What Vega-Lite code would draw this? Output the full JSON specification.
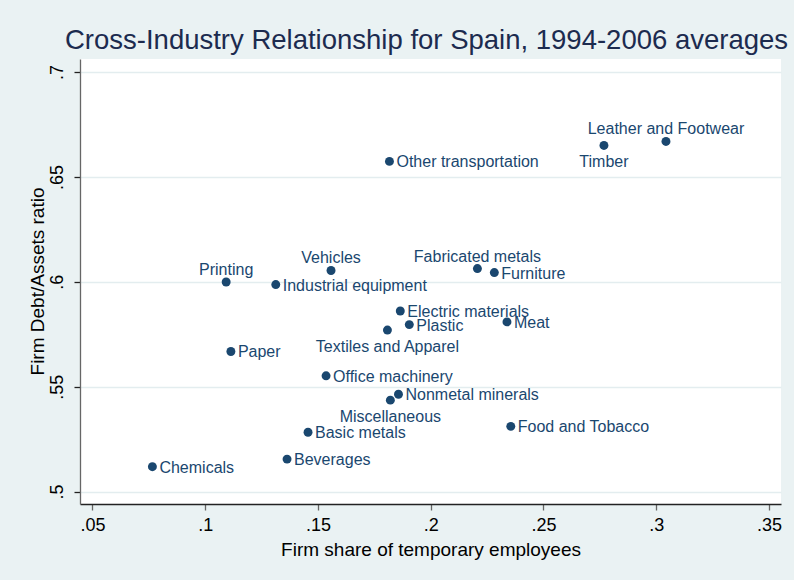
{
  "$schema": "https://vega.github.io/schema/vega-lite/v6.json",
  "autosize": {"type": "none"},
  "width": 701,
  "height": 445,
  "padding": {"left": 80, "top": 59, "right": 13, "bottom": 76},
  "background": "#EAF2F3",
  "config": {
    "view": {"fill": "white", "stroke": null},
    "font": "Liberation Sans"
  },
  "title": {
    "text": "Cross-Industry Relationship for Spain, 1994-2006 averages",
    "anchor": "middle",
    "frame": "group",
    "font": "Liberation Sans",
    "fontSize": 27.5,
    "fontWeight": "normal",
    "color": "#1c2b4f",
    "baseline": "alphabetic",
    "offset": 8,
    "dy": 25,
    "dx": -4
  },
  "data": {
    "values": [
      {"industry": "Leather and Footwear", "temp": 0.3043, "debt": 0.6669},
      {"industry": "Timber", "temp": 0.2768, "debt": 0.6650},
      {"industry": "Other transportation", "temp": 0.1817, "debt": 0.6574},
      {"industry": "Vehicles", "temp": 0.1558, "debt": 0.6054},
      {"industry": "Fabricated metals", "temp": 0.2207, "debt": 0.6063},
      {"industry": "Furniture", "temp": 0.2282, "debt": 0.6044},
      {"industry": "Printing", "temp": 0.1093, "debt": 0.5999},
      {"industry": "Industrial equipment", "temp": 0.1313, "debt": 0.5987},
      {"industry": "Electric materials", "temp": 0.1865, "debt": 0.5861},
      {"industry": "Plastic", "temp": 0.1905, "debt": 0.5796},
      {"industry": "Textiles and Apparel", "temp": 0.1808, "debt": 0.5770},
      {"industry": "Meat", "temp": 0.2338, "debt": 0.5809},
      {"industry": "Paper", "temp": 0.1114, "debt": 0.5668},
      {"industry": "Office machinery", "temp": 0.1536, "debt": 0.5552},
      {"industry": "Nonmetal minerals", "temp": 0.1857, "debt": 0.5464},
      {"industry": "Miscellaneous", "temp": 0.1821, "debt": 0.5436},
      {"industry": "Basic metals", "temp": 0.1456, "debt": 0.5283},
      {"industry": "Food and Tobacco", "temp": 0.2355, "debt": 0.5311},
      {"industry": "Beverages", "temp": 0.1363, "debt": 0.5155},
      {"industry": "Chemicals", "temp": 0.0766, "debt": 0.5119}
    ]
  },
  "encoding": {
    "x": {
      "field": "temp",
      "type": "quantitative",
      "scale": {"domain": [0.0445, 0.3553], "nice": false, "zero": false},
      "axis": {
        "title": "Firm share of temporary employees",
        "values": [0.05, 0.1, 0.15, 0.2, 0.25, 0.3, 0.35],
        "labelExpr": "substring(format(datum.value, '.2~f'), 1)",
        "grid": false,
        "domainColor": "#222222",
        "domainWidth": 1.3,
        "tickColor": "#666666",
        "tickSize": 6,
        "tickWidth": 1.3,
        "labelFont": "Liberation Sans",
        "labelFontSize": 18,
        "labelColor": "#000000",
        "labelPadding": 6,
        "labelFlush": false,
        "titleFont": "Liberation Sans",
        "titleFontSize": 19,
        "titleFontWeight": "normal",
        "titleColor": "#000000",
        "titleBaseline": "alphabetic",
        "titleY": 51
      }
    },
    "y": {
      "field": "debt",
      "type": "quantitative",
      "scale": {"domain": [0.4941, 0.7062], "nice": false, "zero": false},
      "axis": {
        "title": "Firm Debt/Assets ratio",
        "values": [0.5, 0.55, 0.6, 0.65, 0.7],
        "labelExpr": "substring(format(datum.value, '.2~f'), 1)",
        "grid": true,
        "gridColor": "#E3EDEF",
        "gridWidth": 1.5,
        "domainColor": "#666666",
        "domainWidth": 1.3,
        "tickColor": "#222222",
        "tickSize": 6,
        "tickWidth": 1.3,
        "labelFont": "Liberation Sans",
        "labelFontSize": 18,
        "labelColor": "#000000",
        "labelAngle": -90,
        "labelAlign": "center",
        "labelBaseline": "alphabetic",
        "labelPadding": 12,
        "labelFlush": false,
        "titleFont": "Liberation Sans",
        "titleFontSize": 19,
        "titleFontWeight": "normal",
        "titleColor": "#000000",
        "titleAngle": -90,
        "titleAlign": "center",
        "titleBaseline": "alphabetic",
        "titleX": -37,
        "titleY": 222
      }
    }
  },
  "layer": [
    {
      "mark": {"type": "circle", "size": 80, "color": "#1a476f", "opacity": 1}
    },
    {
      "transform": [{"filter": {"field": "industry", "oneOf": ["Other transportation", "Furniture", "Industrial equipment", "Electric materials", "Plastic", "Meat", "Paper", "Office machinery", "Nonmetal minerals", "Basic metals", "Food and Tobacco", "Beverages", "Chemicals"]}}],
      "mark": {"type": "text", "align": "left", "baseline": "alphabetic", "dx": 7, "dy": 6, "font": "Liberation Sans", "fontSize": 16, "color": "#1a476f"},
      "encoding": {"text": {"field": "industry"}}
    },
    {
      "transform": [{"filter": {"field": "industry", "oneOf": ["Leather and Footwear", "Vehicles", "Fabricated metals", "Printing"]}}],
      "mark": {"type": "text", "align": "center", "baseline": "alphabetic", "dy": -7, "font": "Liberation Sans", "fontSize": 16, "color": "#1a476f"},
      "encoding": {"text": {"field": "industry"}}
    },
    {
      "transform": [{"filter": {"field": "industry", "oneOf": ["Timber", "Textiles and Apparel", "Miscellaneous"]}}],
      "mark": {"type": "text", "align": "center", "baseline": "alphabetic", "dy": 22, "font": "Liberation Sans", "fontSize": 16, "color": "#1a476f"},
      "encoding": {"text": {"field": "industry"}}
    }
  ]
}
